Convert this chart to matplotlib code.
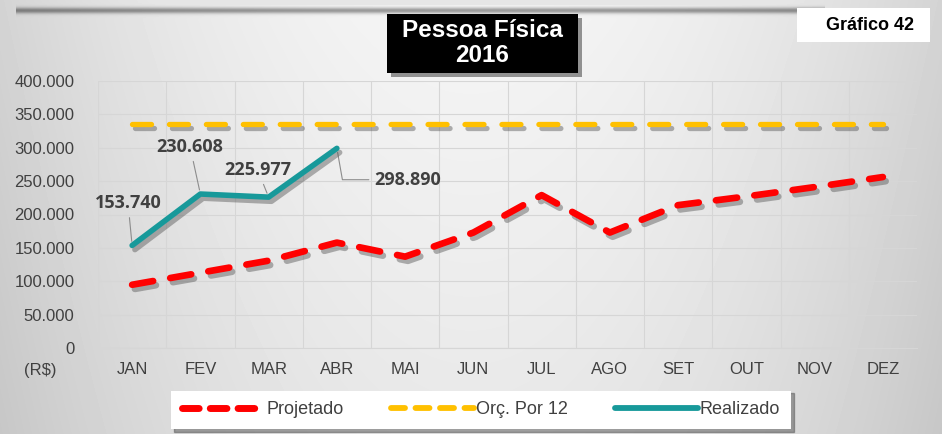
import numpy as np
import matplotlib
matplotlib.use("Agg")
import matplotlib.pyplot as plt
import matplotlib.patheffects as pe
from matplotlib.patches import Rectangle
from matplotlib.lines import Line2D

meses = ["JAN", "FEV", "MAR", "ABR", "MAI", "JUN", "JUL", "AGO", "SET", "OUT", "NOV", "DEZ"]
projetado = [95000, 113000, 131000, 158000, 137000, 173000, 229000, 173000, 214000, 227000, 241000, 256000]
orcamento = [335000] * 12
realizado = [153740, 230608, 225977, 298890]
yticks = [0, 50000, 100000, 150000, 200000, 250000, 300000, 350000, 400000]

ARIAL = ["Liberation Sans", "DejaVu Sans"]
W, H = 942, 434

fig = plt.figure(figsize=(W / 100, H / 100), dpi=100)

# fundo cinza com degradê
bg_ax = fig.add_axes([0, 0, 1, 1], zorder=-10)
xx = np.linspace(-1, 1, W)[None, :]
yy = np.linspace(0, 1, H)[:, None]
bg = 0.96 - 0.13 * xx ** 2 - 0.05 * yy
rows = np.arange(H)[:, None]
cols = np.arange(W)[None, :]
band = np.exp(-((rows - 10) / 3.0) ** 2) * ((cols > 15) & (cols < 825))
bg = bg - 0.35 * band
bg[:5, :] = np.minimum(bg[:5, :], 0.9)
bg_ax.imshow(np.clip(bg, 0, 1), cmap="gray", vmin=0, vmax=1, aspect="auto",
             extent=[0, 1, 0, 1], interpolation="bilinear")
bg_ax.axis("off")

left, right = 98 / W, 917 / W
bottom, top = 1 - 348.3 / H, 1 - 80.7 / H
ax = fig.add_axes([left, bottom, right - left, top - bottom])
ax.patch.set_alpha(0)

x = np.arange(len(meses))
shadow = [pe.SimpleLineShadow(offset=(2, -3), shadow_color="#555555", alpha=0.45), pe.Normal()]

ax.plot(x, orcamento, color="#ffc000", lw=3.8, dashes=(3.6, 3.4),
        dash_capstyle="round", path_effects=shadow, zorder=3)
ax.plot(x, projetado, color="#ff0000", lw=4.8, dashes=(3.2, 2.6),
        dash_capstyle="round", solid_joinstyle="round", path_effects=shadow, zorder=3)
ax.plot(x[:len(realizado)], realizado, color="#17999a", lw=4.0,
        solid_capstyle="round", solid_joinstyle="round", path_effects=shadow, zorder=4)

def fmt(v):
    return f"{v:,}".replace(",", ".")

lbl = dict(fontsize=13, fontweight="bold", color="#404040", family="Open Sans",
           arrowprops=dict(arrowstyle="-", color="#8c8c8c", lw=0.8, shrinkA=2, shrinkB=3))
ax.annotate(fmt(realizado[0]), xy=(0, realizado[0]), xytext=(-0.06, 217000),
            ha="center", va="center", **lbl)
ax.annotate(fmt(realizado[1]), xy=(1, realizado[1]), xytext=(0.85, 301000),
            ha="center", va="center", **lbl)
ax.annotate(fmt(realizado[2]), xy=(2, realizado[2]), xytext=(1.84, 266500),
            ha="center", va="center", **lbl)
lbl4 = dict(lbl)
lbl4["arrowprops"] = dict(arrowstyle="-", color="#8c8c8c", lw=0.8, shrinkA=2, shrinkB=3,
                          connectionstyle="angle,angleA=0,angleB=100,rad=0")
ax.annotate(fmt(realizado[3]), xy=(3, realizado[3]), xytext=(3.55, 252000),
            ha="left", va="center", **lbl4)

ax.set_xlim(-0.5, 11.5)
ax.set_ylim(0, 400000)
ax.set_yticks(yticks)
ax.set_yticklabels([fmt(v) for v in yticks], fontsize=12, color="#404040", family=ARIAL)
ax.set_xticks(x)
ax.set_xticklabels(meses, fontsize=12, color="#404040", family=ARIAL)
ax.set_xticks(np.arange(-0.5, 12, 1), minor=True)
ax.tick_params(which="both", length=0)
ax.tick_params(axis="y", pad=17)
ax.tick_params(axis="x", pad=10)
ax.grid(True, axis="y", color="#d6d6d6", lw=0.8)
ax.grid(True, axis="x", which="minor", color="#d6d6d6", lw=0.8)
for s in ["top", "right", "left"]:
    ax.spines[s].set_visible(False)
ax.spines["bottom"].set_color("#d6d6d6")
ax.set_axisbelow(True)
fig.text(40 / W, 1 - 370 / H, "(R$)", fontsize=12, color="#404040", family=ARIAL,
         ha="center", va="center")

# título
fig.patches.append(Rectangle((387 / W, 1 - 73 / H), 191 / W, 59 / H, transform=fig.transFigure,
                             facecolor="black", edgecolor="none", zorder=5,
                             path_effects=[pe.SimplePatchShadow(offset=(3, -3), alpha=0.4), pe.Normal()]))
fig.text(482 / W, 1 - 43 / H, "Pessoa Física\n2016", ha="center", va="center", color="white",
         fontsize=17.5, fontweight="bold", family=ARIAL, linespacing=1.15, zorder=6)

fig.patches.append(Rectangle((797 / W, 1 - 42 / H), 133 / W, 34 / H, transform=fig.transFigure,
                             facecolor="white", edgecolor="none", zorder=5))
fig.text(870 / W, 1 - 26 / H, "Gráfico 42", ha="center", va="center", color="black",
         fontsize=13, fontweight="bold", family=ARIAL, zorder=6)

# legenda
handles = [
    Line2D([], [], color="#ff0000", lw=5, dashes=(2.4, 1.6), dash_capstyle="round"),
    Line2D([], [], color="#ffc000", lw=4.2, dashes=(2.4, 1.8), dash_capstyle="round"),
    Line2D([], [], color="#17999a", lw=4.2, solid_capstyle="round"),
]
leg = fig.legend(handles, ["Projetado", "Orç. Por 12", "Realizado"], loc="center",
                 bbox_to_anchor=(481 / W, 1 - 410 / H), ncol=3, frameon=True, fancybox=False,
                 shadow={"color": "#555555", "alpha": 0.5}, edgecolor="none", framealpha=1,
                 prop={"family": ARIAL, "size": 13}, handlelength=4.6, handletextpad=0.1,
                 columnspacing=2.6, borderpad=0.6, borderaxespad=0)
leg.get_frame().set_boxstyle("square", pad=0)
for t in leg.get_texts():
    t.set_color("#404040")

fig.savefig("out.png", dpi=100)
